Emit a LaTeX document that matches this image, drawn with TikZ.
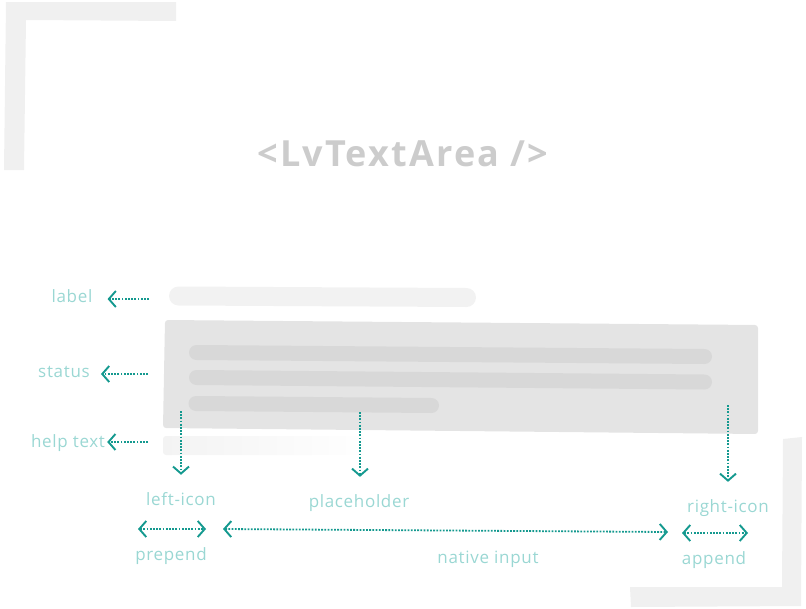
\documentclass[tikz,border=0pt]{standalone}
\usepackage{fontspec}
\setmainfont{Open Sans}
\usetikzlibrary{arrows.meta}
\definecolor{framegray}{HTML}{F0F0F0}
\definecolor{titlegray}{HTML}{CCCCCC}
\definecolor{boxgray}{HTML}{E4E4E4}
\definecolor{linegray}{HTML}{D8D8D8}
\definecolor{labelgray}{HTML}{F2F2F2}
\definecolor{helpgray}{HTML}{F3F3F3}
\definecolor{arrowteal}{HTML}{14998F}
\definecolor{tagteal}{HTML}{9AD7D3}

\begin{document}
\begin{tikzpicture}[x=1pt, y=-1pt,
    every node/.style={inner sep=0pt},
    tag/.style={text=tagteal, anchor=base,
                font=\fontsize{17}{20}\selectfont\addfontfeatures{LetterSpace=4}},
    dotarrow/.style={line width=1.8pt, color=arrowteal,
                     dash pattern=on 1.8pt off 1.4pt,
                     -{Straight Barb[length=7pt, width=16pt, line width=1.9pt]}},
    dotboth/.style={dotarrow,
                    {Straight Barb[length=7pt, width=16pt, line width=1.9pt]}-{Straight Barb[length=7pt, width=16pt, line width=1.9pt]}},
    bar/.style={line cap=round},
]
\useasboundingbox (0,0) rectangle (806,608);

% --- corner frames ---
\fill[framegray] (6,2) -- (176,2) -- (176,21) -- (26,20) -- (24,170) -- (4,170) -- cycle;
\fill[framegray] (783,439) -- (802,437) -- (801,606) -- (631,607) -- (630,587) -- (782,587) -- cycle;

% --- title ---
\node[text=titlegray, anchor=base,
      font=\fontsize{36}{42}\selectfont\bfseries\addfontfeatures{LetterSpace=6}]
     (title) at (403,166) {<LvTextArea />};

% --- mock text area ---
\draw[bar, labelgray, line width=19pt] (178.5,296) -- (466.5,297.5);
\fill[boxgray, rounded corners=3pt] (165,320) -- (758,325) -- (758,434) -- (163,428) -- cycle;
\draw[bar, linegray, line width=15pt] (196.5,352.5) -- (704.5,356.5);
\draw[bar, linegray, line width=15pt] (196.5,377.5) -- (704.5,382);
\draw[bar, linegray, line width=15pt] (196,403.5) -- (431.5,405.5);
\shade[left color=helpgray, right color=white, rounded corners=3pt]
  (163,436) rectangle (372,455);

% --- side labels ---
\node[tag] (lbl) at (72,302) {label};
\node[tag] (stat) at (64,377) {status};
\node[tag] (help) at (68,447) {help text};
\coordinate (lblsrc) at (149,299);
\coordinate (statsrc) at (148,374);
\coordinate (helpsrc) at (148,442);
\draw[dotarrow] (lblsrc) -- ([xshift=15pt]lblsrc -| lbl.east);
\draw[dotarrow] (statsrc) -- ([xshift=11pt]statsrc -| stat.east);
\draw[dotarrow] (helpsrc) -- ([xshift=2pt]helpsrc -| help.east);

% --- labels below ---
\node[tag] (licon) at (181,505) {left-icon};
\node[tag] (phold) at (359,507) {placeholder};
\node[tag] (ricon) at (728,512) {right-icon};
\coordinate (liconsrc) at (181,411);
\coordinate (pholdsrc) at (360,412);
\coordinate (riconsrc) at (728,405);
\draw[dotarrow] (liconsrc) -- ([yshift=17pt]liconsrc |- licon.north);
\draw[dotarrow] (pholdsrc) -- ([yshift=17pt]pholdsrc |- phold.north);
\draw[dotarrow] (riconsrc) -- ([yshift=17pt]riconsrc |- ricon.north);

% --- prepend / native input / append ---
\coordinate (prepL) at (138,529);
\coordinate (prepR) at (206,529);
\coordinate (nativeL) at (223,529);
\coordinate (nativeR) at (668,532);
\coordinate (appL) at (682,533);
\coordinate (appR) at (748,533);
\draw[dotboth] (prepL) -- (prepR);
\draw[dotboth] (nativeL) -- (nativeR);
\draw[dotboth] (appL) -- (appR);
\node[tag] (prep) at (171,560) {prepend};
\node[tag] (native) at (488,563) {native input};
\node[tag] (app) at (714,564) {append};

\end{tikzpicture}
\end{document}
